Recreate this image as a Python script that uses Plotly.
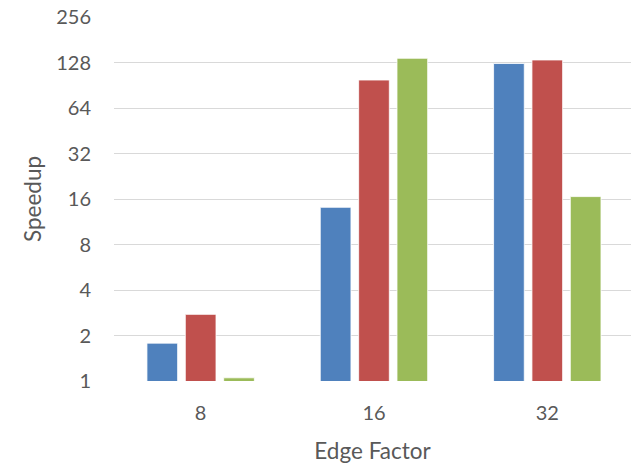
import plotly.graph_objects as go

categories = ["8", "16", "32"]
series_names = ["Series 1", "Series 2", "Series 3"]
series_values = [
    [1.78, 14.1, 126],
    [2.76, 98, 133],
    [1.05, 136.5, 16.6],
]
series_colors = ["#4F81BD", "#C0504D", "#9BBB59"]
tick_vals = [1, 2, 4, 8, 16, 32, 64, 128, 256]
tick_text = [str(v) for v in tick_vals]

font_family = "Lato, 'Open Sans', sans-serif"
text_color = "#595959"

fig = go.Figure()
for name, vals, col in zip(series_names, series_values, series_colors):
    fig.add_trace(go.Bar(
        x=categories, y=vals, name=name,
        marker=dict(color=col, line=dict(color="white", width=0.8)),
    ))

fig.update_layout(
    width=631, height=467,
    margin=dict(l=114, r=0, t=17, b=86),
    paper_bgcolor="white", plot_bgcolor="white",
    barmode="group", bargap=0.336, bargroupgap=0.2,
    showlegend=False,
    font=dict(family=font_family, size=20, color=text_color),
)
fig.update_xaxes(
    type="category", range=[-0.5, 2.483],
    showgrid=False, showline=False, zeroline=False,
    ticks="", ticklabelstandoff=18,
    tickfont=dict(size=20, color=text_color),
    title=dict(text="Edge Factor", standoff=20, font=dict(size=22.5, color=text_color)),
)
fig.update_yaxes(
    type="log", range=[0, 2.40824],
    tickvals=tick_vals, ticktext=tick_text,
    showgrid=True, gridcolor="#D9D9D9", gridwidth=1.3,
    showline=False, zeroline=False,
    ticks="", ticklabelstandoff=22,
    tickfont=dict(size=20, color=text_color),
    title=dict(text="Speedup", standoff=8, font=dict(size=22.5, color=text_color)),
)

fig.write_html("out.html")
